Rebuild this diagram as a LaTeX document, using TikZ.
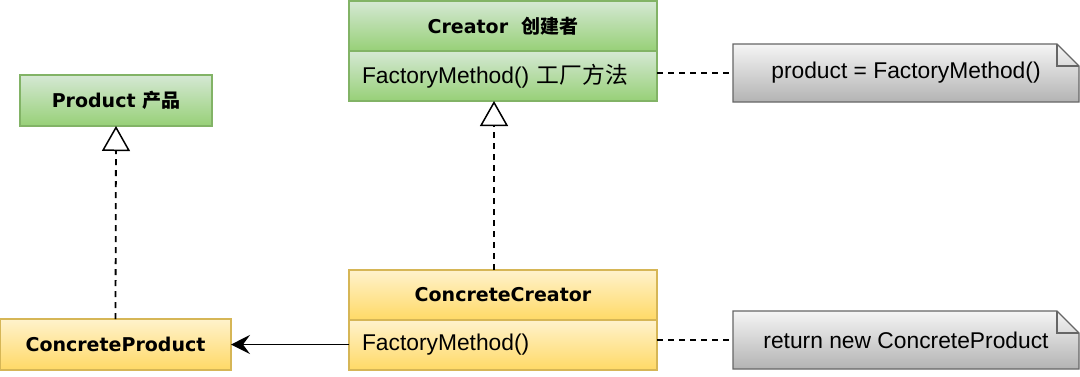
\documentclass[tikz,border=0pt]{standalone}
\usepackage{fontspec}
\setmainfont{Liberation Sans}
\newfontfamily\vb{DejaVu Sans}
\newfontfamily\cjk{Noto Sans CJK SC}
\usetikzlibrary{arrows.meta,backgrounds}
\definecolor{gtop}{HTML}{D5E8D4}
\definecolor{gbot}{HTML}{97D077}
\definecolor{gstroke}{HTML}{82B366}
\definecolor{ytop}{HTML}{FFF2CC}
\definecolor{ybot}{HTML}{FFD966}
\definecolor{ystroke}{HTML}{D6B656}
\definecolor{ntop}{HTML}{F5F5F5}
\definecolor{nbot}{HTML}{B3B3B3}
\definecolor{nstroke}{HTML}{666666}
\tikzset{
  boxbase/.style={rectangle, line width=1.3pt, inner sep=0pt, outer sep=0pt, minimum height=50pt},
  greenbox/.style={boxbase, draw=gstroke, top color=gtop, bottom color=gbot},
  yellowbox/.style={boxbase, draw=ystroke, top color=ytop, bottom color=ybot},
  headtext/.style={font=\vb\bfseries\fontsize{19}{23}\selectfont},
  bodytext/.style={font=\fontsize{22.8}{27}\selectfont},
  leftbody/.style={bodytext, align=left, text width=282pt, inner xsep=13pt},
  notebox/.style={rectangle, minimum width=346pt, minimum height=58pt, inner sep=0pt, outer sep=0pt, bodytext},
  noteshape/.style={draw=nstroke, line width=1.3pt, top color=ntop, bottom color=nbot},
  realize/.style={dashed, dash pattern=on 6pt off 5pt, line width=1.8pt, -{Triangle[open, length=25pt, width=28pt, line width=1.5pt]}},
  notelink/.style={dashed, dash pattern=on 6pt off 5pt, line width=1.8pt},
  assoc/.style={line width=1.6pt, -{Stealth[length=19pt, width=19pt, inset=7pt]}}
}
\begin{document}
\begin{tikzpicture}[x=1pt,y=-1pt]
\useasboundingbox (0,0) rectangle (1080,376);
% Product
\node[greenbox, minimum width=192pt, minimum height=51pt, anchor=north west, headtext] (prod) at (20,75) {Product {\cjk\bfseries 产品}};
% Creator
\node[greenbox, minimum width=308pt, anchor=north west, headtext] (crH) at (349,1) {Creator\ \ {\cjk\bfseries 创建者}};
\node[greenbox, minimum width=308pt, anchor=north west, leftbody] (crB) at (349,51) {FactoryMethod() {\cjk 工厂方法}};
% ConcreteCreator
\node[yellowbox, minimum width=308pt, anchor=north west, headtext] (ccH) at (349,270) {ConcreteCreator};
\node[yellowbox, minimum width=308pt, anchor=north west, leftbody] (ccB) at (349,320) {FactoryMethod()};
% ConcreteProduct
\node[yellowbox, minimum width=231pt, minimum height=51pt, anchor=north west, headtext] (cp) at (0,319) {ConcreteProduct};
% Notes
\node[notebox, anchor=north west] (n1) at (733,44) {product = FactoryMethod()};
\node[notebox, anchor=north west] (n2) at (733,311) {return new ConcreteProduct};
\begin{scope}[on background layer]
\foreach \n in {n1,n2}{
  \path[noteshape] (\n.north west) -- ([xshift=-22pt]\n.north east) -- ([yshift=-22pt]\n.north east) -- (\n.south east) -- (\n.south west) -- cycle;
  \draw[nstroke, line width=1.3pt, line join=miter] ([xshift=-22pt]\n.north east) -- ([xshift=-22pt,yshift=-22pt]\n.north east) -- ([yshift=-22pt]\n.north east);
}
\end{scope}
% connectors
\draw[realize] (cp.north) -- (prod.south);
\draw[realize] ([xshift=-9pt]ccH.north) -- ([xshift=-9pt]crB.south);
\draw[assoc] (ccB.west |- cp.east) -- (cp.east);
\draw[notelink] (crB.east |- n1.west) -- (n1.west);
\draw[notelink] (ccB.east |- n2.west) -- (n2.west);
\end{tikzpicture}
\end{document}
